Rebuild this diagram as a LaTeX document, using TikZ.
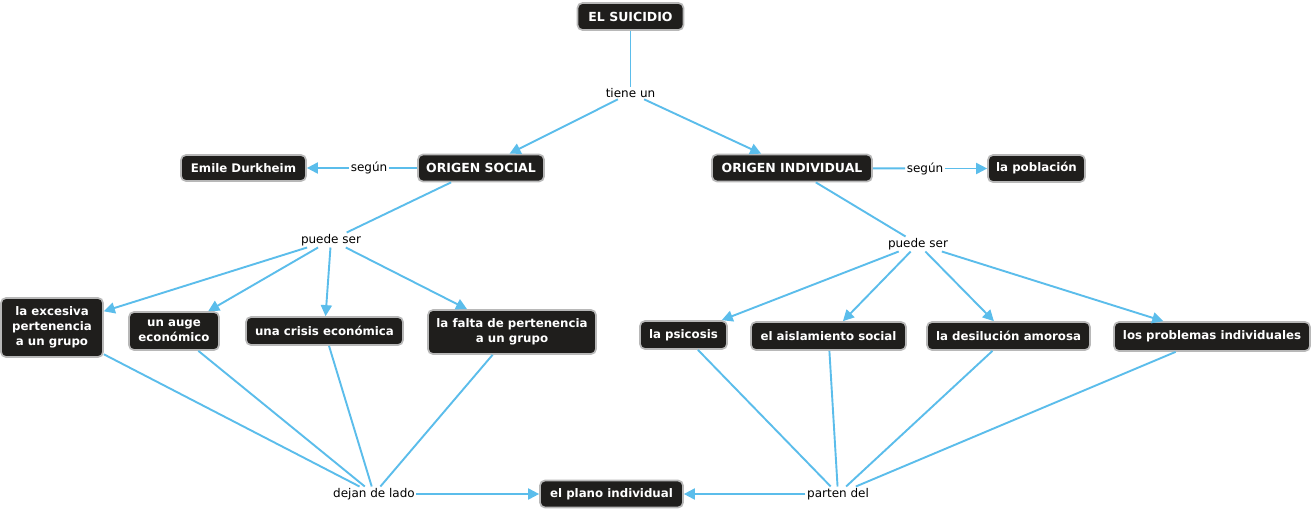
\documentclass[tikz,border=0pt]{standalone}
\usepackage{fontspec}
\setmainfont{DejaVu Sans}
\usetikzlibrary{arrows.meta}
\definecolor{boxfill}{HTML}{1F1E1C}
\definecolor{boxline}{HTML}{B8B8B8}
\definecolor{link}{HTML}{5BBDEB}
\tikzset{
  concept/.style={draw=boxline, line width=1.7pt, fill=boxfill, rounded corners=5pt,
    text=white, font=\fontsize{11.8}{15}\selectfont\bfseries, align=center, inner sep=0pt},
  capsconcept/.style={concept, font=\fontsize{12.5}{15}\selectfont\bfseries},
  lbl/.style={font=\fontsize{12}{14}\selectfont, inner sep=1.5pt, text=black},
  conn/.style={draw=link, line width=1.9pt},
  arr/.style={conn, -{Triangle[length=11pt,width=11pt]}},
}
\begin{document}
\begin{tikzpicture}[x=1pt,y=-1pt]
\useasboundingbox[fill=white] (0,0) rectangle (1314,512);
% concepts
\node[capsconcept, minimum width=106, minimum height=27] (suic) at (630.5,16.5) {EL SUICIDIO};
\node[capsconcept, minimum width=126, minimum height=27] (os) at (481,168) {ORIGEN SOCIAL};
\node[capsconcept, minimum width=160, minimum height=27] (oi) at (792,168) {ORIGEN INDIVIDUAL};
\node[concept, minimum width=125, minimum height=26] (emile) at (243.5,168) {Emile Durkheim};
\node[concept, minimum width=97, minimum height=27] (pobl) at (1036.5,168.5) {la población};
\node[concept, minimum width=102, minimum height=59] (exc) at (52,327.5) {la excesiva\\pertenencia\\a un grupo};
\node[concept, minimum width=90, minimum height=38] (auge) at (174,331) {un auge\\económico};
\node[concept, minimum width=157, minimum height=28] (crisis) at (324.5,331) {una crisis económica};
\node[concept, minimum width=168, minimum height=44] (falta) at (512,332) {la falta de pertenencia\\a un grupo};
\node[concept, minimum width=87, minimum height=28] (psic) at (683.5,335) {la psicosis};
\node[concept, minimum width=155, minimum height=28] (aisl) at (828.5,336) {el aislamiento social};
\node[concept, minimum width=163, minimum height=28] (desil) at (1008.5,336) {la desilución amorosa};
\node[concept, minimum width=196, minimum height=29] (probl) at (1212,336.5) {los problemas individuales};
\node[concept, minimum width=143, minimum height=27] (plano) at (611.5,494) {el plano individual};
% linking phrases
\node[lbl] (tiene) at (630.5,93) {tiene un};
\node[lbl] (seg1) at (369,168) {según};
\node[lbl] (seg2) at (925,168.5) {según};
\node[lbl] (pse1) at (331,240) {puede ser};
\node[lbl] (pse2) at (918,244) {puede ser};
\node[lbl] (dejan) at (374,494) {dejan de lado};
\node[lbl] (parten) at (838,494) {parten del};
% connectors
\draw[conn] (suic) -- (tiene);
\draw[arr] (tiene) -- (os);
\draw[arr] (tiene) -- (oi);
\draw[conn] (os) -- (seg1);
\draw[arr] (seg1) -- (emile);
\draw[conn] (oi) -- (seg2);
\draw[arr] (seg2) -- (pobl);
\draw[conn] (os) -- (pse1);
\draw[arr] (pse1) -- (exc);
\draw[arr] (pse1) -- (auge);
\draw[arr] (pse1) -- (crisis);
\draw[arr] (pse1) -- (falta);
\draw[conn] (oi) -- (pse2);
\draw[arr] (pse2) -- (psic);
\draw[arr] (pse2) -- (aisl);
\draw[arr] (pse2) -- (desil);
\draw[arr] (pse2) -- (probl);
\draw[conn] (exc) -- (dejan);
\draw[conn] (auge) -- (dejan);
\draw[conn] (crisis) -- (dejan);
\draw[conn] (falta) -- (dejan);
\draw[arr] (dejan) -- (plano);
\draw[conn] (psic) -- (parten);
\draw[conn] (aisl) -- (parten);
\draw[conn] (desil) -- (parten);
\draw[conn] (probl) -- (parten);
\draw[arr] (parten) -- (plano);
\end{tikzpicture}
\end{document}
